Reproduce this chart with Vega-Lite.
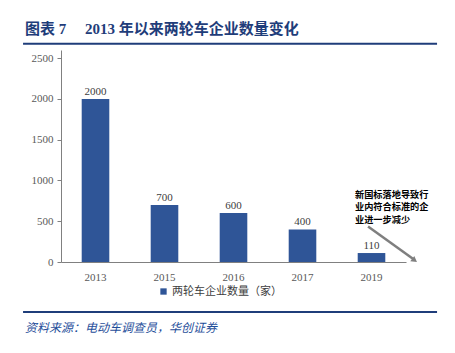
{
  "$schema": "https://vega.github.io/schema/vega-lite/v6.json",
  "autosize": {"type": "none"},
  "width": 345,
  "height": 212,
  "padding": {"left": 61, "top": 50, "right": 49, "bottom": 91},
  "background": "white",
  "config": {"view": {"stroke": null}, "axis": {"labelFont": "Liberation Serif", "labelFontSize": 11, "labelColor": "#595959"}},
  "datasets": {
    "firms": [
      {"year": "2013", "count": 2000, "series": "两轮车企业数量（家）"},
      {"year": "2015", "count": 700, "series": "两轮车企业数量（家）"},
      {"year": "2016", "count": 600, "series": "两轮车企业数量（家）"},
      {"year": "2017", "count": 400, "series": "两轮车企业数量（家）"},
      {"year": "2019", "count": 110, "series": "两轮车企业数量（家）"}
    ]
  },
  "resolve": {"scale": {"x": "independent", "y": "independent"}, "axis": {"x": "independent", "y": "independent"}},
  "layer": [
    {
      "data": {"name": "firms"},
      "layer": [
        {
          "mark": {"type": "bar"},
          "encoding": {
            "x": {"field": "year", "type": "ordinal",
              "scale": {"paddingInner": 0.6, "paddingOuter": 0.3},
              "axis": {"title": null, "labelAngle": 0, "ticks": false, "labelPadding": 9,
                "labelFont": "Liberation Serif", "labelFontSize": 11, "labelColor": "#595959",
                "domainColor": "#808080", "domainWidth": 1.2, "grid": false}},
            "y": {"field": "count", "type": "quantitative",
              "scale": {"domain": [0, 2500]},
              "axis": {"title": null, "values": [0, 500, 1000, 1500, 2000, 2500], "format": "d", "tickSize": 4,
                "tickColor": "#808080", "domainColor": "#808080", "grid": false, "labelPadding": 4,
                "labelFont": "Liberation Serif", "labelFontSize": 11, "labelColor": "#595959"}},
            "color": {"field": "series", "type": "nominal",
              "scale": {"range": ["#2F5597"]},
              "legend": {"title": null, "orient": "none", "legendX": 97, "legendY": 236,
                "symbolType": "square", "symbolSize": 40, "labelFont": "Noto Sans CJK SC",
                "labelFontSize": 11, "labelColor": "#404040", "labelOffset": 3}}
          }
        },
        {
          "mark": {"type": "text", "baseline": "bottom", "dy": -2, "font": "Liberation Serif", "fontSize": 11, "color": "#404040"},
          "encoding": {
            "x": {"field": "year", "type": "ordinal"},
            "y": {"field": "count", "type": "quantitative"},
            "text": {"field": "count", "type": "quantitative"}
          }
        }
      ]
    },
    {
      "data": {"values": [{"note": "新国标落地导致行\n业内符合标准的企\n业进一步减少"}]},
      "layer": [
        {
          "mark": {"type": "rule", "stroke": "#7F7F7F", "strokeWidth": 2.5},
          "encoding": {
            "x": {"datum": 0.89, "type": "quantitative", "scale": {"domain": [0, 1]}, "axis": null},
            "y": {"datum": 436, "type": "quantitative", "scale": {"domain": [0, 2500]}, "axis": null},
            "x2": {"datum": 1.02},
            "y2": {"datum": 40}
          }
        },
        {
          "mark": {"type": "point", "shape": "triangle-up", "filled": true, "color": "#7F7F7F", "opacity": 1, "size": 45, "angle": 127},
          "encoding": {
            "x": {"datum": 1.025, "type": "quantitative"},
            "y": {"datum": 20, "type": "quantitative"}
          }
        },
        {
          "mark": {"type": "text", "align": "left", "baseline": "top", "lineBreak": "\n", "lineHeight": 12.5,
            "font": "Noto Sans CJK SC", "fontWeight": "bold", "fontSize": 9.2, "color": "#000000"},
          "encoding": {
            "x": {"datum": 0.852, "type": "quantitative"},
            "y": {"datum": 875, "type": "quantitative"},
            "text": {"field": "note"}
          }
        },
        {
          "mark": {"type": "rule", "stroke": "#1F3D7A", "strokeWidth": 2},
          "encoding": {
            "x": {"datum": -0.11, "type": "quantitative"},
            "x2": {"datum": 1.09},
            "y": {"datum": 2677, "type": "quantitative"}
          }
        },
        {
          "mark": {"type": "rule", "stroke": "#1F3D7A", "strokeWidth": 2},
          "encoding": {
            "x": {"datum": -0.11, "type": "quantitative"},
            "x2": {"datum": 1.09},
            "y": {"datum": -613, "type": "quantitative"}
          }
        },
        {
          "mark": {"type": "text", "align": "left", "baseline": "middle", "font": "Liberation Serif, Noto Sans CJK SC",
            "fontWeight": "bold", "fontSize": 15, "color": "#1F3D7A"},
          "encoding": {
            "x": {"datum": -0.104, "type": "quantitative"},
            "y": {"datum": 2854, "type": "quantitative"},
            "text": {"value": "图表 7\u00a0\u00a0\u00a0\u00a0\u00a02013 年以来两轮车企业数量变化"}
          }
        },
        {
          "mark": {"type": "text", "align": "left", "baseline": "middle", "font": "Noto Sans CJK SC",
            "fontStyle": "italic", "fontSize": 12, "color": "#1F4E9A"},
          "encoding": {
            "x": {"datum": -0.104, "type": "quantitative"},
            "y": {"datum": -814, "type": "quantitative"},
            "text": {"value": "资料来源：电动车调查员，华创证券"}
          }
        }
      ]
    }
  ]
}
